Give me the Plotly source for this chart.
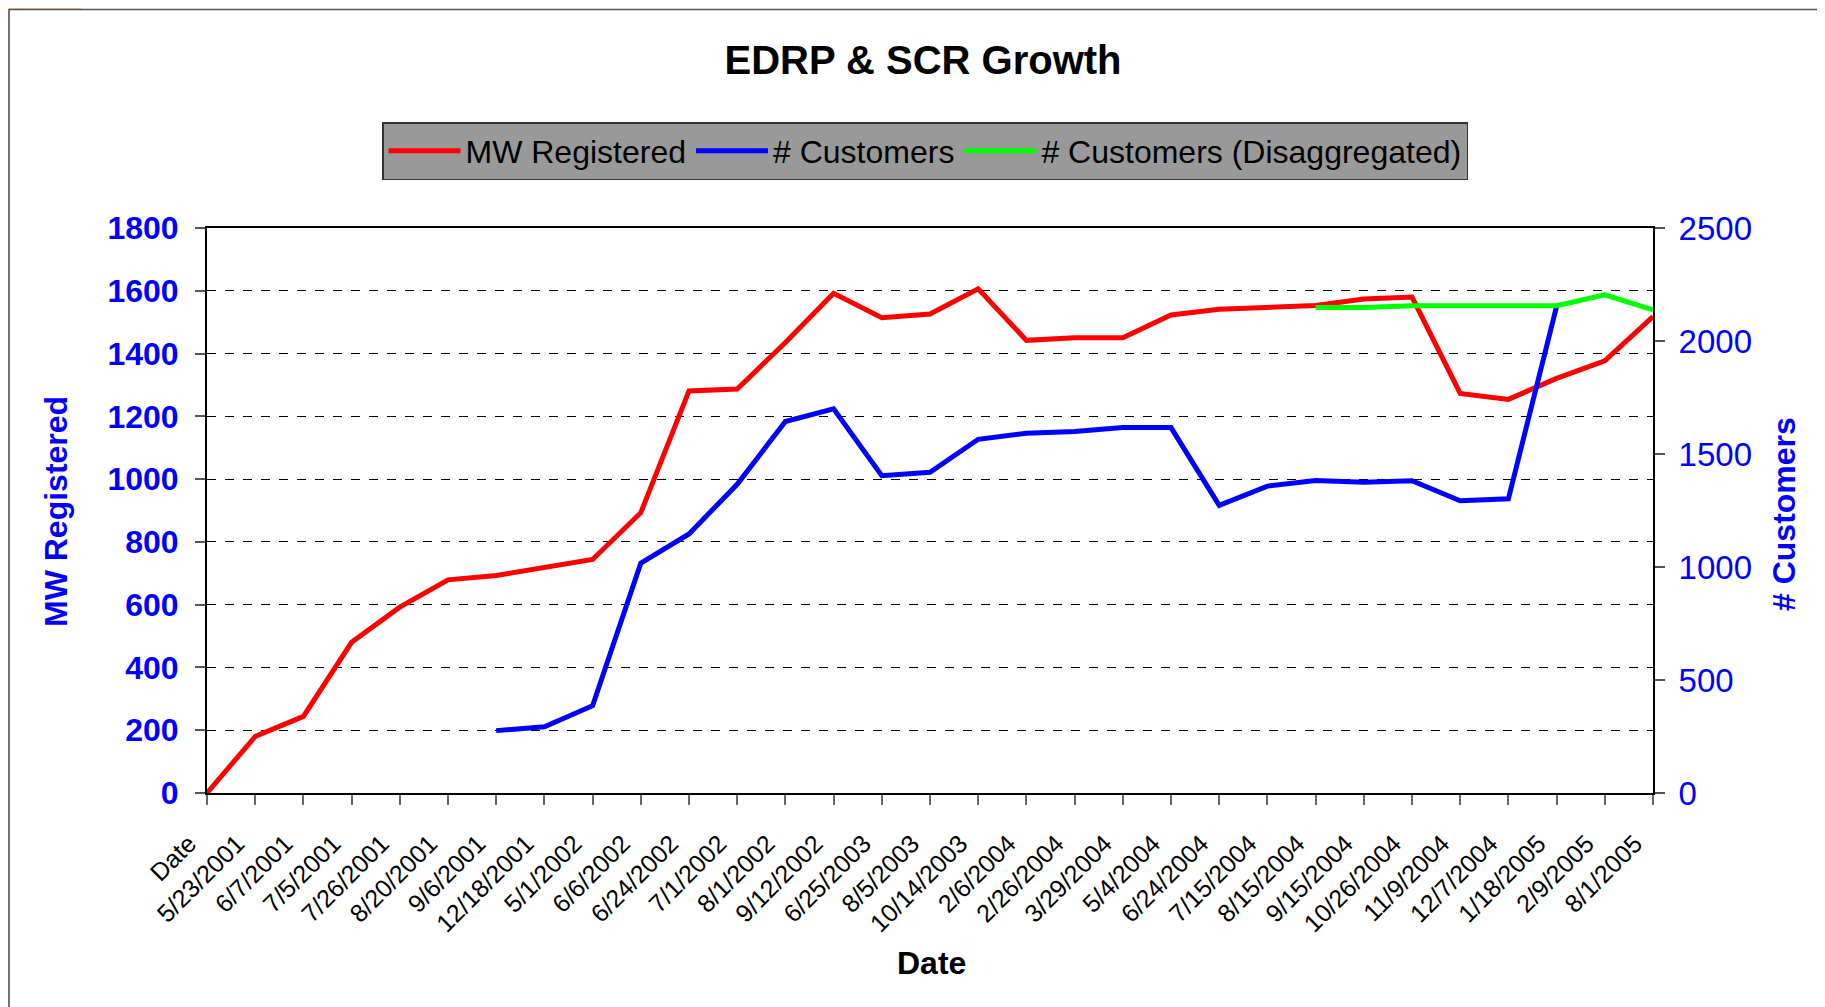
import plotly.graph_objects as go

categories = ["Date", "5/23/2001", "6/7/2001", "7/5/2001", "7/26/2001", "8/20/2001", "9/6/2001",
              "12/18/2001", "5/1/2002", "6/6/2002", "6/24/2002", "7/1/2002", "8/1/2002", "9/12/2002",
              "6/25/2003", "8/5/2003", "10/14/2003", "2/6/2004", "2/26/2004", "3/29/2004", "5/4/2004",
              "6/24/2004", "7/15/2004", "8/15/2004", "9/15/2004", "10/26/2004", "11/9/2004", "12/7/2004",
              "1/18/2005", "2/9/2005", "8/1/2005"]

mw_registered = [0, 180, 244, 480, 592, 679, 693, 717, 744, 893, 1281, 1287, 1435, 1592,
                 1514, 1526, 1606, 1442, 1450, 1450, 1523, 1541, 1547, 1553, 1574, 1580,
                 1273, 1254, 1321, 1377, 1518]

customers = [None, None, None, None, None, None, 276, 293, 386, 1017, 1146, 1366, 1644, 1700,
             1404, 1419, 1565, 1592, 1600, 1617, 1617, 1273, 1358, 1383, 1375, 1382,
             1293, 1302, 2153, None, None]

customers_disagg = [None] * 23 + [2148, 2148, 2156, 2156, 2156, 2156, 2204, 2138]

left_ticks = [0, 200, 400, 600, 800, 1000, 1200, 1400, 1600, 1800]
right_ticks = [0, 500, 1000, 1500, 2000, 2500]

FONT = "Liberation Sans, Arial, sans-serif"
W, H = 1825, 1007
OFF = 8  # page body margin
L, R, T, B = 207 - OFF, 1653 - OFF, 228 - OFF, 793 - OFF


def px(x):
    return (x - OFF - L) / (R - L)


def py(y):
    return (B - (y - OFF)) / (B - T)


fig = go.Figure()
fig.add_trace(go.Scatter(x=categories, y=mw_registered, name="MW Registered", mode="lines",
                         line=dict(color="#FF0000", width=5)))
fig.add_trace(go.Scatter(x=categories, y=customers, name="# Customers", mode="lines",
                         line=dict(color="#0000FF", width=5), yaxis="y2"))
fig.add_trace(go.Scatter(x=categories, y=customers_disagg, name="# Customers (Disaggregated)",
                         mode="lines", line=dict(color="#00FF00", width=5), yaxis="y2"))

fig.update_layout(
    width=W, height=H,
    margin=dict(l=L, r=W - R, t=T, b=H - B),
    paper_bgcolor="white", plot_bgcolor="white",
    font=dict(family=FONT, color="black"),
    title=dict(text="<b>EDRP & SCR Growth</b>", x=(923 - OFF) / W, xanchor="center",
               y=1 - (60 - OFF) / H, yanchor="middle", xref="container", yref="container",
               font=dict(size=40, color="black", family=FONT)),
    showlegend=True,
    legend=dict(orientation="h", x=px(925), xanchor="center", y=py(122), yanchor="top",
                bgcolor="#999999", bordercolor="#333333", borderwidth=1.5,
                font=dict(size=32, color="black", family=FONT),
                itemwidth=72, tracegroupgap=0),
    xaxis=dict(type="category", range=[0, len(categories) - 1], tickmode="array",
               tickvals=categories, ticktext=categories, tickangle=-45,
               tickfont=dict(size=25, color="black", family=FONT),
               ticklabelstandoff=14, ticklabelshift=-18,
               ticks="outside", ticklen=10, tickcolor="#666666", tickwidth=1.5,
               showline=True, linecolor="black", linewidth=2, mirror=True,
               showgrid=False, zeroline=False),
    yaxis=dict(range=[0, 1800], tickvals=left_ticks,
               tickfont=dict(size=32, color="#0000FF", family=FONT, weight="bold"),
               ticks="outside", ticklen=10, tickcolor="#555555", tickwidth=1.5,
               ticklabelstandoff=10,
               showline=True, linecolor="black", linewidth=2,
               showgrid=True, gridcolor="black", gridwidth=1, griddash="dash",
               zeroline=False),
    yaxis2=dict(range=[0, 2500], tickvals=right_ticks, overlaying="y", side="right",
                tickfont=dict(size=33, color="#0000FF", family=FONT),
                ticks="outside", ticklen=10, tickcolor="#555555", tickwidth=1.5,
                ticklabelstandoff=7,
                showline=True, linecolor="black", linewidth=2,
                showgrid=False, zeroline=False),
)

# axis titles
fig.add_annotation(text="<b>MW Registered</b>", xref="paper", yref="paper",
                   x=px(56), y=py(512), textangle=-90, showarrow=False,
                   xanchor="center", yanchor="middle",
                   font=dict(size=32, color="#0000FF", family=FONT))
fig.add_annotation(text="<b># Customers</b>", xref="paper", yref="paper",
                   x=px(1784), y=py(514), textangle=-90, showarrow=False,
                   xanchor="center", yanchor="middle",
                   font=dict(size=32, color="#0000FF", family=FONT))
fig.add_annotation(text="<b>Date</b>", xref="paper", yref="paper",
                   x=px(931), y=py(963), showarrow=False,
                   xanchor="center", yanchor="middle",
                   font=dict(size=32, color="black", family=FONT))

# slide frame (visible part)
fig.add_shape(type="rect", xref="paper", yref="paper", x0=px(OFF), x1=px(OFF + 73),
              y0=py(OFF + 1), y1=py(OFF), fillcolor="#FFD37F", line=dict(width=0), layer="below")
fig.add_shape(type="line", xref="paper", yref="paper", x0=px(OFF + 1), x1=px(W + OFF),
              y0=py(OFF + 1.5), y1=py(OFF + 1.5), line=dict(color="#555555", width=1.5))
fig.add_shape(type="line", xref="paper", yref="paper", x0=px(OFF + 1), x1=px(OFF + 1),
              y0=py(OFF + 1), y1=py(H + OFF), line=dict(color="#444444", width=1.5))

fig.write_html("out.html")
